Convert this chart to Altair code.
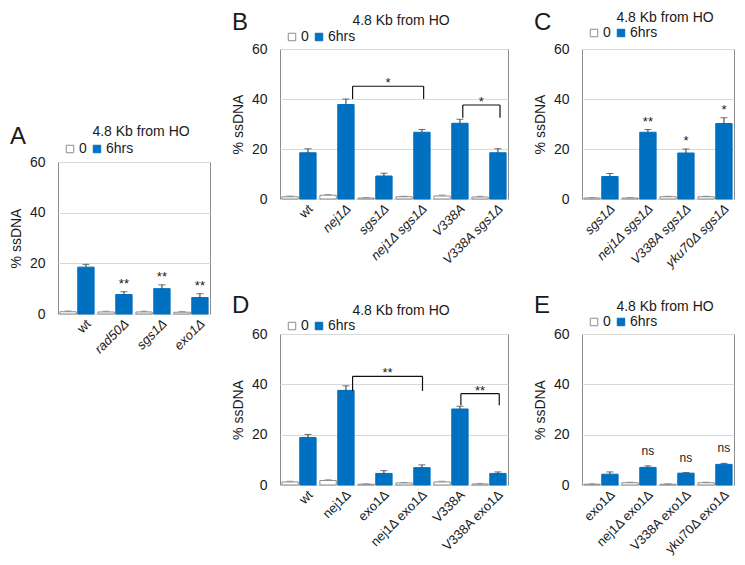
import json
import altair as alt
import pandas as pd

FONT = "Liberation Sans"
BLUE = "#0070C0"
GRAY = "#8c8c8c"
TXT = "#1a1a1a"
TITLE = "4.8 Kb from HO"
SERIES = ["0", "6hrs"]
YTITLE = "% ssDNA"

# ---------------- data ----------------
A_cats = ["wt", "rad50Δ", "sgs1Δ", "exo1Δ"]
A_zero = [0.9, 0.8, 0.8, 0.7]
A_zero_err = [0.3, 0.3, 0.3, 0.3]
A_six = [18.5, 7.7, 10.0, 6.5]
A_six_err = [1.1, 1.1, 1.5, 1.5]
A_marks = ["", "**", "**", "**"]

B_cats = ["wt", "nej1Δ", "sgs1Δ", "nej1Δ sgs1Δ", "V338A", "V338A sgs1Δ"]
B_zero = [0.9, 1.5, 0.4, 0.9, 1.2, 0.8]
B_zero_err = [0.3, 0.3, 0.2, 0.2, 0.4, 0.3]
B_six = [18.5, 37.8, 9.2, 26.7, 30.3, 18.5]
B_six_err = [1.6, 2.2, 1.1, 1.1, 1.6, 1.6]
B_marks = ["", "", "", "", "", ""]
B_br_x1 = [1.91, 4.81]
B_br_x2 = [3.78, 5.79]
B_br_top = [45.1, 37.6]
B_br_bot = [40.0, 32.5]
B_br_text = ["*", "*"]

C_cats = ["sgs1Δ", "nej1Δ sgs1Δ", "V338A sgs1Δ", "yku70Δ sgs1Δ"]
C_zero = [0.4, 0.4, 0.9, 0.9]
C_zero_err = [0.2, 0.2, 0.2, 0.2]
C_six = [9.0, 26.7, 18.4, 30.2]
C_six_err = [1.2, 1.1, 1.6, 2.3]
C_marks = ["", "**", "*", "*"]

D_cats = ["wt", "nej1Δ", "exo1Δ", "nej1Δ exo1Δ", "V338A", "V338A exo1Δ"]
D_zero = [1.2, 1.8, 0.3, 0.8, 1.2, 0.4]
D_zero_err = [0.3, 0.3, 0.2, 0.2, 0.3, 0.2]
D_six = [18.9, 37.6, 4.6, 6.9, 30.2, 4.6]
D_six_err = [1.2, 1.8, 1.1, 1.1, 1.1, 0.6]
D_marks = ["", "", "", "", "", ""]
D_br_x1 = [1.91, 4.76]
D_br_x2 = [3.75, 5.77]
D_br_top = [43.2, 36.3]
D_br_bot = [37.4, 31.7]
D_br_text = ["**", "**"]

E_cats = ["exo1Δ", "nej1Δ exo1Δ", "V338A exo1Δ", "yku70Δ exo1Δ"]
E_zero = [0.3, 0.9, 0.3, 0.9]
E_zero_err = [0.2, 0.2, 0.2, 0.2]
E_six = [4.3, 7.0, 4.7, 8.2]
E_six_err = [0.9, 0.6, 0.2, 0.4]
E_marks = ["", "ns", "ns", "ns"]

Y_TICKS = [0, 20, 40, 60]


def make_panel(letter, cats, zero, zero_err, six, six_err, marks,
               width, height, italic, letter_y, title_y, legend_y,
               mark_dy, mark_size, brackets=None):
    n = len(cats)
    rows = []
    for i, c in enumerate(cats):
        rows.append(dict(idx=i, cat=c, series=SERIES[0], value=zero[i], err=zero_err[i]))
        rows.append(dict(idx=i, cat=c, series=SERIES[1], value=six[i], err=six_err[i]))
    df = pd.DataFrame(rows)

    xscale = alt.Scale(domain=[0, n], nice=False, zero=False)
    yscale = alt.Scale(domain=[0, 60], nice=False)

    normal_idx = [i for i, c in enumerate(cats) if (c == "wt" or not italic)]
    if len(normal_idx) == n:
        font_style = "normal"
    elif not normal_idx:
        font_style = "italic"
    else:
        font_style = {"condition": {"test": f"indexof({json.dumps(normal_idx)}, floor(datum.value)) >= 0",
                                    "value": "normal"},
                      "value": "italic"}

    xaxis = alt.Axis(values=[i + 0.5 for i in range(n)],
                     labelExpr=f"{json.dumps(cats, ensure_ascii=False)}[floor(datum.value)]",
                     labelAngle=315, labelAlign="right", labelBaseline="top",
                     labelOffset=7, labelPadding=3, ticks=False, domain=False, grid=False,
                     labelOverlap=False, labelFlush=False, labelFontSize=13,
                     labelFontStyle=font_style)
    yaxis = alt.Axis(values=Y_TICKS, grid=True, gridColor="#d9d9d9", domain=False, ticks=False,
                     labelPadding=13, titlePadding=6, labelFontSize=14, titleFontSize=14,
                     titleFontWeight="normal")

    def X(field):
        return alt.X(field, scale=xscale, axis=xaxis, title=None)

    def Y(field):
        return alt.Y(field, scale=yscale, axis=yaxis, title=YTITLE)

    base = alt.Chart(df).transform_calculate(
        x0="datum.idx + (datum.series == '0' ? 0.05 : 0.52)",
        x1="datum.idx + (datum.series == '0' ? 0.48 : 0.95)",
        xc="datum.idx + (datum.series == '0' ? 0.265 : 0.735)",
        top="datum.value + datum.err",
        base="0",
    )
    legend = alt.Legend(orient="none", legendX=5, legendY=legend_y, direction="horizontal",
                        symbolType="square", symbolSize=56, symbolStrokeWidth=1,
                        labelFontSize=14, labelOffset=2, columnPadding=3, padding=0)
    bars = base.mark_bar(strokeWidth=1).encode(
        x=X("x0:Q"),
        x2="x1:Q",
        y=Y("value:Q"),
        y2="base:Q",
        fill=alt.Fill("series:N", scale=alt.Scale(domain=SERIES, range=["#ffffff", BLUE]),
                      legend=legend, title=None),
        stroke=alt.Stroke("series:N", scale=alt.Scale(domain=SERIES, range=[GRAY, BLUE]),
                          legend=legend, title=None),
    )
    err_color = alt.condition("datum.series == '0'", alt.value("#7f7f7f"), alt.value("#333333"))
    err = base.mark_rule(strokeWidth=1).encode(
        x=X("xc:Q"), y=Y("value:Q"), y2="top:Q", color=err_color)
    caps = base.mark_tick(orient="horizontal", size=7, thickness=1).encode(
        x=X("xc:Q"), y=Y("top:Q"), color=err_color)

    layers = [bars, err, caps]

    mk = pd.DataFrame([dict(idx=i, text=t, y=six[i] + six_err[i]) for i, t in enumerate(marks) if t])
    if len(mk):
        layers.append(alt.Chart(mk).transform_calculate(xc="datum.idx + 0.735").mark_text(
            baseline="middle", dy=mark_dy, fontSize=mark_size).encode(
            x=X("xc:Q"), y=Y("y:Q"), text="text:N"))

    if brackets:
        bdf = pd.DataFrame(dict(x1=brackets[0], x2=brackets[1], top=brackets[2],
                                bot=brackets[3], text=brackets[4]))
        bb = alt.Chart(bdf)
        layers += [
            bb.mark_rule(color="#111111", strokeWidth=1.2).encode(
                x=X("x1:Q"), x2="x2:Q", y=Y("top:Q")),
            bb.mark_rule(color="#111111", strokeWidth=1.2).encode(
                x=X("x1:Q"), y=Y("top:Q"), y2="bot:Q"),
            bb.mark_rule(color="#111111", strokeWidth=1.2).encode(
                x=X("x2:Q"), y=Y("top:Q"), y2="bot:Q"),
            bb.transform_calculate(xm="(datum.x1 + datum.x2) / 2").mark_text(
                baseline="middle", dy=-3, fontSize=13).encode(
                x=X("xm:Q"), y=Y("top:Q"), text="text:N"),
        ]

    lab = alt.Chart(pd.DataFrame({"letter": [letter], "title": [TITLE]}))
    layers.append(lab.mark_text(fontSize=24, align="left", baseline="alphabetic").encode(
        x=alt.value(-48), y=alt.value(letter_y), text="letter:N"))
    layers.append(lab.mark_text(fontSize=14, align="center", baseline="alphabetic").encode(
        x=alt.value(width / 2 + 7), y=alt.value(title_y), text="title:N"))

    return alt.layer(*layers).properties(width=width, height=height)


A = make_panel("A", A_cats, A_zero, A_zero_err, A_six, A_six_err, A_marks,
               152, 152, True, -18, -26, -20, -8, 13)
B = make_panel("B", B_cats, B_zero, B_zero_err, B_six, B_six_err, B_marks,
               228, 150, True, -19, -24, -19, -8, 13,
               brackets=(B_br_x1, B_br_x2, B_br_top, B_br_bot, B_br_text))
C = make_panel("C", C_cats, C_zero, C_zero_err, C_six, C_six_err, C_marks,
               152, 150, True, -19, -27, -23, -8, 13)
D = make_panel("D", D_cats, D_zero, D_zero_err, D_six, D_six_err, D_marks,
               228, 151, False, -21, -19, -15, -8, 13,
               brackets=(D_br_x1, D_br_x2, D_br_top, D_br_bot, D_br_text))
E = make_panel("E", E_cats, E_zero, E_zero_err, E_six, E_six_err, E_marks,
               152, 151, False, -21, -23, -19, -15, 12)

spacer = alt.Chart(pd.DataFrame({"s": [0]})).mark_point(opacity=0).encode(
    x=alt.value(0), y=alt.value(0)).properties(
    width=10, height=56, view=alt.ViewBackground(stroke="transparent"))

RES = dict(fill="independent", stroke="independent")
A_col = alt.vconcat(spacer, A, spacing=18).resolve_scale(**RES)
row1 = alt.hconcat(B, C, spacing=23).resolve_scale(**RES)
row2 = alt.hconcat(D, E, spacing=23).resolve_scale(**RES)
right = alt.vconcat(row1, row2, spacing=22).resolve_scale(**RES)

chart = alt.hconcat(A_col, right, spacing=19).resolve_scale(**RES).properties(
    padding={"left": 0, "top": 2, "right": 0, "bottom": 0}
).configure_view(stroke=GRAY, strokeWidth=1).configure_axis(
    labelFont=FONT, titleFont=FONT, labelColor=TXT, titleColor=TXT
).configure_legend(labelFont=FONT, labelColor=TXT).configure_text(font=FONT, color=TXT)

chart.save("out.html", embed_options={"renderer": "svg", "actions": False})
